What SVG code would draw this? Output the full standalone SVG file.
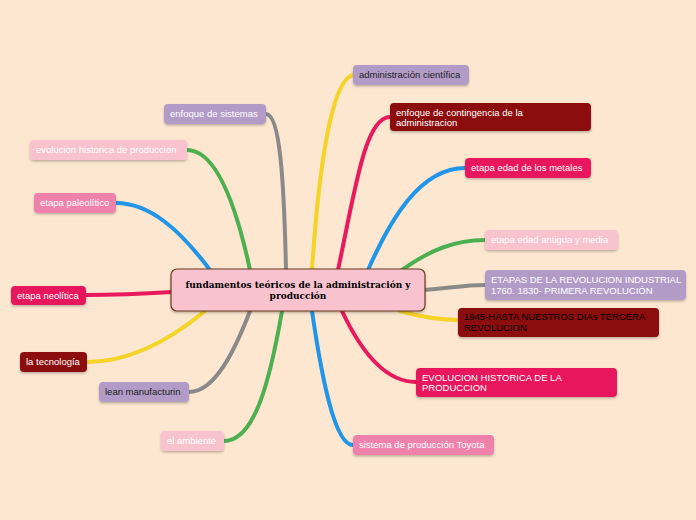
<svg xmlns="http://www.w3.org/2000/svg" width="696" height="520" viewBox="0 0 696 520">
<style>
.c{fill:none;stroke-width:4;stroke-linecap:round}
.n{rx:5;ry:5}
text{font-family:"Liberation Sans",Arial,sans-serif;font-size:9.5px}
.w{fill:#fff}.d{fill:#222}.b{fill:#000}
.pu{fill:#b39bc8}.dr{fill:#8b0a0a}.rp{fill:#e8195c}.lp{fill:#f8c3cf}.mp{fill:#ee82ab}
</style>
<defs><filter id="s" x="-10%" y="-10%" width="120%" height="140%"><feDropShadow dx="0" dy="1.5" stdDeviation="1" flood-opacity="0.25"/></filter></defs>
<rect width="696" height="520" fill="#fde7d0"/>
<g id="connectors">
<path class="c" stroke="#f5d327" d="M312,270 C318,180 330,80 353,75"/>
<path class="c" stroke="#e8195c" d="M338,270 C355,190 365,117 390,117"/>
<path class="c" stroke="#2196e8" d="M368,270 C390,220 420,168 465,168"/>
<path class="c" stroke="#4caf50" d="M402,270 C430,250 455,240 485,240"/>
<path class="c" stroke="#8a8a8a" d="M424,290 C450,288 465,285 485,285"/>
<path class="c" stroke="#f5d327" d="M400,311 C425,318 440,320 458,320"/>
<path class="c" stroke="#e8195c" d="M342,311 C365,360 390,382 416,382"/>
<path class="c" stroke="#2196e8" d="M312,311 C322,380 335,445 353,445"/>
<path class="c" stroke="#8a8a8a" d="M286,270 C284,180 280,114 266,114"/>
<path class="c" stroke="#4caf50" d="M250,270 C235,200 215,150 187,150"/>
<path class="c" stroke="#2196e8" d="M210,270 C180,230 150,203 116,203"/>
<path class="c" stroke="#e8195c" d="M172,292 C140,294 110,295 86,295"/>
<path class="c" stroke="#f5d327" d="M205,311 C170,340 130,362 87,362"/>
<path class="c" stroke="#8a8a8a" d="M250,311 C235,350 215,392 189,392"/>
<path class="c" stroke="#4caf50" d="M282,311 C270,380 255,441 224,441"/>
</g>
<g id="center"><rect x="171" y="269" width="254" height="42" rx="6" fill="#f8c3cf" stroke="#6b3a1f" stroke-width="1.2" filter="url(#s)"/>
<text x="298" y="288" text-anchor="middle" style="font-family:'DejaVu Serif',serif;font-size:9px;font-weight:bold" class="b">fundamentos teóricos de la administración y</text>
<text x="298" y="299" text-anchor="middle" style="font-family:'DejaVu Serif',serif;font-size:9px;font-weight:bold" class="b">producción</text></g>
<g id="n1"><rect class="pu" x="353" y="65" width="116" height="20" rx="4" filter="url(#s)"/><text class="d" x="359" y="78">administración científica</text></g>
<g id="n2"><rect class="dr" x="390" y="103" width="201" height="28" rx="4" filter="url(#s)"/><text class="w" x="396" y="116">enfoque de contingencia de la</text><text class="w" x="396" y="126">administracion</text></g>
<g id="n3"><rect class="rp" x="465" y="158" width="126" height="20" rx="4" filter="url(#s)"/><text class="w" x="471" y="171">etapa edad de los metales</text></g>
<g id="n4"><rect class="lp" x="485" y="230" width="133" height="20" rx="4" filter="url(#s)"/><text class="w" x="491" y="243">etapa edad antigua y media</text></g>
<g id="n5"><rect class="pu" x="485" y="270" width="201" height="30" rx="4" filter="url(#s)"/><text class="w" x="491" y="283">ETAPAS DE LA REVOLUCION INDUSTRIAL</text><text class="w" x="491" y="294">1760. 1830- PRIMERA REVOLUCIÓN</text></g>
<g id="n6"><rect class="dr" x="458" y="308" width="201" height="29" rx="4" filter="url(#s)"/><text class="b" x="464" y="320">1945-HASTA NUESTROS DIAs TERCERA</text><text class="b" x="464" y="331">REVOLUCION</text></g>
<g id="n7"><rect class="rp" x="416" y="368" width="201" height="29" rx="4" filter="url(#s)"/><text class="w" x="422" y="381">EVOLUCION HISTORICA DE LA</text><text class="w" x="422" y="391">PRODUCCION</text></g>
<g id="n8"><rect class="mp" x="353" y="435" width="141" height="20" rx="4" filter="url(#s)"/><text class="w" x="359" y="448">sistema de producción Toyota</text></g>
<g id="n9"><rect class="pu" x="164" y="104" width="102" height="20" rx="4" filter="url(#s)"/><text class="w" x="170" y="117">enfoque de sistemas</text></g>
<g id="n10"><rect class="lp" x="30" y="140" width="157" height="20" rx="4" filter="url(#s)"/><text class="w" x="36" y="153">evolucion historica de produccion</text></g>
<g id="n11"><rect class="mp" x="34" y="193" width="82" height="20" rx="4" filter="url(#s)"/><text class="w" x="40" y="206">etapa paleolítico</text></g>
<g id="n12"><rect class="rp" x="11" y="286" width="75" height="19" rx="4" filter="url(#s)"/><text class="w" x="17" y="299">etapa neolítica</text></g>
<g id="n13"><rect class="dr" x="20" y="352" width="67" height="20" rx="4" filter="url(#s)"/><text class="w" x="26" y="365">la tecnología</text></g>
<g id="n14"><rect class="pu" x="99" y="382" width="90" height="20" rx="4" filter="url(#s)"/><text class="d" x="105" y="395">lean manufacturin</text></g>
<g id="n15"><rect class="lp" x="161" y="431" width="63" height="20" rx="4" filter="url(#s)"/><text class="w" x="167" y="444">el ambiente</text></g>
</svg>
